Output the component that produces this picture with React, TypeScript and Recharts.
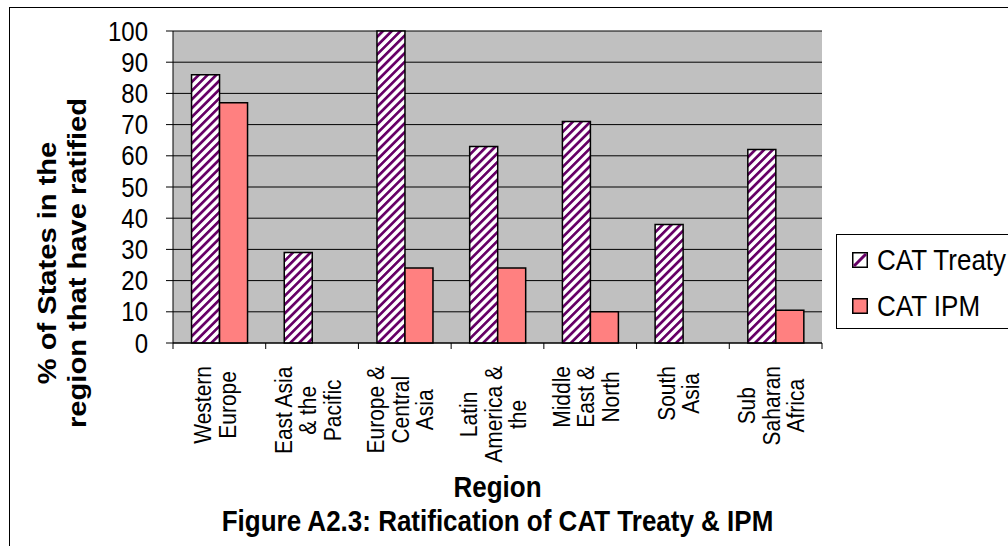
import { Bar, BarChart, CartesianGrid, XAxis, YAxis } from "recharts";

const FONT = '"Liberation Sans", Arial, sans-serif';

const REGIONS = [
  "Western Europe",
  "East Asia & the Pacific",
  "Europe & Central Asia",
  "Latin America & the Caribbean",
  "Middle East & North Africa",
  "South Asia",
  "Sub Saharan Africa",
];

// wrapped tick text, as it is printed under each category
const REGION_LINES = [
  ["Western", "Europe"],
  ["East Asia", "& the", "Pacific"],
  ["Europe &", "Central", "Asia"],
  ["Latin", "America &", "the"],
  ["Middle", "East &", "North"],
  ["South", "Asia"],
  ["Sub", "Saharan", "Africa"],
];

const CAT_TREATY = [86, 29, 100, 63, 71, 38, 62];
const CAT_IPM = [77, 0, 24, 24, 10, 0, 10.5];

const Y_TICKS = [0, 10, 20, 30, 40, 50, 60, 70, 80, 90, 100];

const data = REGIONS.map((region, i) => ({
  region,
  treaty: CAT_TREATY[i],
  ipm: CAT_IPM[i],
}));

const PLOT_LEFT = 173;
const PLOT_RIGHT = 822;
const PLOT_TOP = 31;
const PLOT_BOTTOM = 343;
const STEP = (PLOT_RIGHT - PLOT_LEFT) / REGIONS.length;

// the printed type is a little taller than it is wide
const STRETCH = 1.12;

const TICK_FONT = 21;
const LINE_GAP = 24.5;

let measureCtx: CanvasRenderingContext2D | null = null;
function textWidth(s: string, font: string) {
  if (!measureCtx) measureCtx = document.createElement("canvas").getContext("2d");
  if (!measureCtx) return s.length * 10;
  measureCtx.font = font;
  return measureCtx.measureText(s).width;
}

function RegionTick(props: any) {
  const { x, y, payload } = props;
  const idx = REGIONS.indexOf(payload.value);
  const lines = REGION_LINES[idx] || [];
  const font = `${TICK_FONT}px "Liberation Sans"`;
  const longest = Math.max(...lines.map((l) => textWidth(l, font)));
  const mid = y + 23 + longest / 2;
  return (
    <g>
      <line x1={x - STEP / 2} x2={x - STEP / 2} y1={y} y2={y + 6} stroke="#000" />
      {idx === REGIONS.length - 1 && (
        <line x1={x + STEP / 2} x2={x + STEP / 2} y1={y} y2={y + 6} stroke="#000" />
      )}
      {lines.map((line, i) => {
        const lx = x + (i - (lines.length - 1) / 2) * LINE_GAP + 4;
        return (
          <text
            key={line}
            transform={`translate(${lx},${mid}) rotate(-90) scale(1,${STRETCH})`}
            textAnchor="middle"
            fontSize={TICK_FONT}
            fontFamily={FONT}
            fill="#000"
          >
            {line}
          </text>
        );
      })}
    </g>
  );
}

function ValueTick(props: any) {
  const { x, y, payload } = props;
  return (
    <text
      transform={`translate(${x},${y}) scale(1,${STRETCH})`}
      textAnchor="end"
      dy="0.36em"
      fontSize={24}
      fontFamily={FONT}
      fill="#000"
    >
      {payload.value}
    </text>
  );
}

function YTitle() {
  const cy = 263;
  return (
    <g fontFamily={FONT} fontWeight="bold" fontSize={26} fill="#000" textAnchor="middle">
      <text transform={`translate(56,${cy}) rotate(-90) scale(${STRETCH},1)`}>
        % of States in the
      </text>
      <text transform={`translate(86,${cy}) rotate(-90) scale(${STRETCH},1)`}>
        region that have ratified
      </text>
    </g>
  );
}

function XTitles() {
  const cx = (PLOT_LEFT + PLOT_RIGHT) / 2;
  return (
    <g fontFamily={FONT} fontWeight="bold" fontSize={26} fill="#000" textAnchor="middle">
      <text transform={`translate(${cx},497) scale(1,${STRETCH})`}>Region</text>
      <text transform={`translate(${cx},531) scale(1,${STRETCH})`}>
        Figure A2.3: Ratification of CAT Treaty &amp; IPM
      </text>
    </g>
  );
}

function LegendBox() {
  const row = { display: "flex", alignItems: "center", height: 46 } as const;
  const label = { display: "inline-block", transform: `scaleY(${STRETCH})` };
  return (
    <div
      style={{
        position: "absolute",
        left: 836,
        top: 234,
        width: 220,
        height: 95,
        border: "1px solid #000",
        background: "#fff",
        boxSizing: "border-box",
        paddingLeft: 15,
        paddingTop: 2,
        fontFamily: FONT,
        fontSize: 26,
        color: "#000",
      }}
    >
      <div style={row}>
        <svg width={16} height={16} style={{ marginRight: 9 }}>
          <rect x={0.75} y={0.75} width={14.5} height={14.5} fill="#fff" stroke="#000" strokeWidth={1.5} />
          <line x1={2} y1={14} x2={14} y2={2} stroke="#660066" strokeWidth={3} />
        </svg>
        <span style={label}>CAT Treaty</span>
      </div>
      <div style={row}>
        <svg width={16} height={16} style={{ marginRight: 9 }}>
          <rect x={0.75} y={0.75} width={14.5} height={14.5} fill="#FF8080" stroke="#000" strokeWidth={1.5} />
        </svg>
        <span style={label}>CAT IPM</span>
      </div>
    </div>
  );
}

export default function App() {
  return (
    <div
      style={{
        position: "relative",
        width: 1008,
        height: 546,
        overflow: "hidden",
        background: "#fff",
        fontFamily: FONT,
      }}
    >
      <style>{"body{margin:0}"}</style>
      <svg width={0} height={0} style={{ position: "absolute" }}>
        <defs>
          <pattern
            id="catStripes"
            patternUnits="userSpaceOnUse"
            width={6.2}
            height={6.2}
            patternTransform="rotate(45)"
          >
            <rect width={6.2} height={6.2} fill="#fff" />
            <rect width={2.7} height={6.2} fill="#660066" />
          </pattern>
        </defs>
      </svg>
      <div
        style={{
          position: "absolute",
          left: 9,
          top: 7,
          width: 1200,
          height: 800,
          border: "1px solid #000",
        }}
      />
      <div style={{ position: "absolute", left: 0, top: 0 }}>
        <BarChart
          width={1008}
          height={546}
          data={data}
          margin={{ top: PLOT_TOP, right: 1008 - PLOT_RIGHT, bottom: 0, left: 0 }}
          barCategoryGap="20%"
          barGap={0}
        >
          <CartesianGrid vertical={false} stroke="#000" fill="#C0C0C0" fillOpacity={1} />
          <XAxis
            dataKey="region"
            height={546 - PLOT_BOTTOM}
            interval={0}
            tickLine={false}
            tickSize={0}
            tickMargin={0}
            tick={<RegionTick />}
            axisLine={{ stroke: "#000" }}
            label={{ content: <XTitles /> }}
          />
          <XAxis
            xAxisId="top"
            dataKey="region"
            orientation="top"
            height={0}
            tick={false}
            tickLine={false}
            axisLine={{ stroke: "#808080" }}
          />
          <YAxis
            width={PLOT_LEFT}
            domain={[0, 100]}
            ticks={Y_TICKS}
            interval={0}
            tickSize={7}
            tickMargin={18}
            tick={<ValueTick />}
            tickLine={{ stroke: "#000" }}
            axisLine={{ stroke: "#000" }}
            label={{ content: <YTitle /> }}
          />
          <YAxis
            yAxisId="right"
            orientation="right"
            width={0}
            domain={[0, 100]}
            tick={false}
            tickLine={false}
            axisLine={{ stroke: "#808080" }}
          />
          <Bar
            dataKey="treaty"
            name="CAT Treaty"
            fill="url(#catStripes)"
            stroke="#000"
            strokeWidth={1.5}
            isAnimationActive={false}
          />
          <Bar
            dataKey="ipm"
            name="CAT IPM"
            fill="#FF8080"
            stroke="#000"
            strokeWidth={1.5}
            isAnimationActive={false}
          />
        </BarChart>
      </div>
      <LegendBox />
    </div>
  );
}
